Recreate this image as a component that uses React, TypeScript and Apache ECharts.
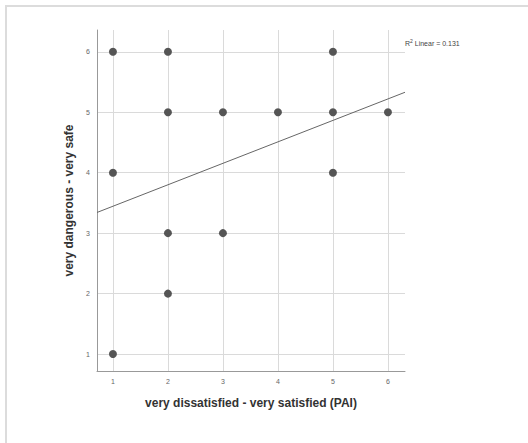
import React, { useEffect, useRef } from "react";
import * as echarts from "echarts";

// Observed (x, y) pairs
const xValues = [1, 2, 5, 2, 3, 4, 5, 6, 1, 5, 2, 3, 2, 1];
const yValues = [6, 6, 6, 5, 5, 5, 5, 5, 4, 4, 3, 3, 2, 1];
const tickValues = [1, 2, 3, 4, 5, 6];

// Linear fit
const fitIntercept = 3.09;
const fitSlope = 0.355;
const rSquaredValue = "0.131";

const xTitle = "very dissatisfied - very satisfied (PAI)";
const yTitle = "very dangerous - very safe";

const X_MIN = 0.71;
const X_MAX = 6.31;
const Y_MIN = 0.72;
const Y_MAX = 6.36;

export default function App() {
  const ref = useRef<HTMLDivElement>(null);
  useEffect(() => {
    if (!ref.current) return;
    const chart = echarts.init(ref.current, null, { renderer: "svg" });
    const points = xValues.map((x, i) => [x, yValues[i]]);
    const fitLine = [
      [X_MIN, fitIntercept + fitSlope * X_MIN],
      [X_MAX, fitIntercept + fitSlope * X_MAX],
    ];
    const font = "Liberation Sans, Arial, sans-serif";
    const labelStyle = { color: "#666", fontSize: 7, fontFamily: font };
    const titleStyle = { color: "#333", fontSize: 12, fontWeight: "bold", fontFamily: font };
    chart.setOption({
      animation: false,
      backgroundColor: "#fff",
      grid: { left: 97, top: 30, width: 308, height: 341 },
      xAxis: {
        type: "value",
        min: X_MIN,
        max: X_MAX,
        name: xTitle,
        nameLocation: "middle",
        nameGap: 26,
        nameTextStyle: titleStyle,
        axisLine: { show: true, lineStyle: { color: "#999", width: 1 } },
        axisTick: { show: false, customValues: tickValues },
        axisLabel: { ...labelStyle, margin: 7, customValues: tickValues },
        splitLine: { show: true, lineStyle: { color: "#dadada", width: 1 } },
      },
      yAxis: {
        type: "value",
        min: Y_MIN,
        max: Y_MAX,
        name: yTitle,
        nameLocation: "middle",
        nameGap: 15,
        nameTextStyle: titleStyle,
        axisLine: { show: true, lineStyle: { color: "#999", width: 1 } },
        axisTick: { show: false, customValues: tickValues },
        axisLabel: { ...labelStyle, margin: 7, customValues: tickValues },
        splitLine: { show: true, lineStyle: { color: "#dadada", width: 1 } },
      },
      series: [
        {
          type: "line",
          data: fitLine,
          showSymbol: false,
          symbol: "none",
          lineStyle: { color: "#666", width: 1 },
          z: 3,
        },
        {
          type: "scatter",
          data: points,
          symbolSize: 8,
          itemStyle: { color: "#555", opacity: 1 },
          z: 4,
        },
      ],
      graphic: [
        {
          type: "rect",
          shape: { x: 6, y: 6, width: 560, height: 480 },
          style: { fill: "none", stroke: "#dcdcdc", lineWidth: 2 },
          silent: true,
        },
        {
          type: "text",
          x: 405,
          y: 43,
          style: {
            text: "{r|R}{sup|2}{r| Linear = " + rSquaredValue + "}",
            verticalAlign: "middle",
            rich: {
              r: { fill: "#444", fontSize: 7, fontFamily: font },
              sup: { fill: "#444", fontSize: 5, fontFamily: font, verticalAlign: "top", padding: [0, 0, 4, 0] },
            },
          },
        },
      ],
    });
    return () => chart.dispose();
  }, []);
  return (
    <div
      ref={ref}
      style={{ position: "fixed", left: 0, top: 0, width: 528, height: 443 }}
    />
  );
}
